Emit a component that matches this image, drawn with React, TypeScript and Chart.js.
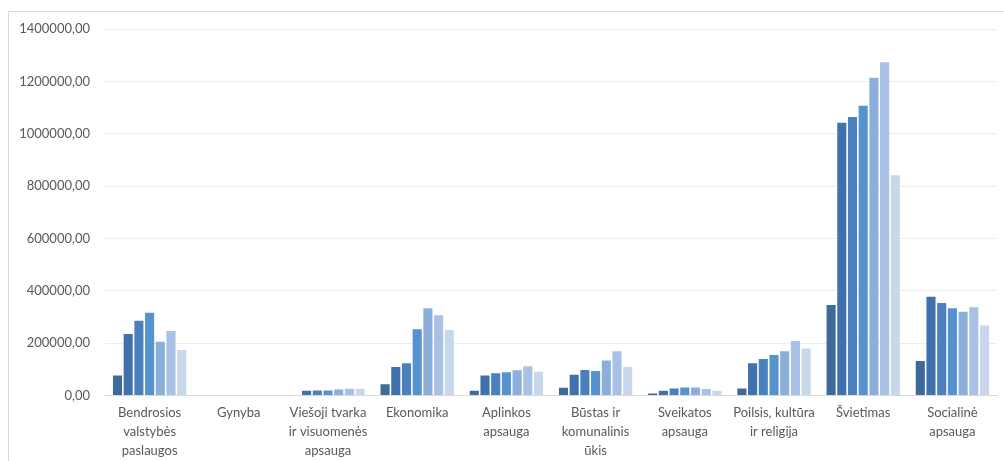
import React, { useEffect, useRef } from "react";
import { Chart, registerables } from "chart.js";

Chart.register(...registerables);

const categories: string[][] = [
  ["Bendrosios", "valstybės", "paslaugos"],
  ["Gynyba"],
  ["Viešoji tvarka", "ir visuomenės", "apsauga"],
  ["Ekonomika"],
  ["Aplinkos", "apsauga"],
  ["Būstas ir", "komunalinis", "ūkis"],
  ["Sveikatos", "apsauga"],
  ["Poilsis, kultūra", "ir religija"],
  ["Švietimas"],
  ["Socialinė", "apsauga"],
];

const series1 = [76000, 0, 0, 43000, 18000, 30000, 8000, 27000, 346000, 132000];
const series2 = [235000, 0, 18000, 109000, 76000, 79000, 18000, 123000, 1042000, 377000];
const series3 = [286000, 0, 19000, 123000, 85000, 97000, 27000, 139000, 1064000, 353000];
const series4 = [316000, 0, 19000, 253000, 89000, 94000, 31000, 155000, 1107000, 333000];
const series5 = [205000, 0, 23000, 333000, 96000, 134000, 31000, 169000, 1214000, 320000];
const series6 = [246000, 0, 26000, 307000, 112000, 169000, 25000, 208000, 1273000, 337000];
const series7 = [174000, 0, 26000, 250000, 91000, 109000, 18000, 180000, 841000, 267000];

const seriesNames = ["1", "2", "3", "4", "5", "6", "7"];
const seriesColors = ["#3E6A9A", "#3F72AC", "#4A80BE", "#5592D0", "#8CAEDA", "#A9C1E4", "#C8D7EC"];

const yMin = 0;
const yMax = 1400000;
const yStep = 200000;

export default function App() {
  const ref = useRef<HTMLCanvasElement | null>(null);

  useEffect(() => {
    if (!ref.current) return;
    const all = [series1, series2, series3, series4, series5, series6, series7];
    const chart = new Chart(ref.current, {
      type: "bar",
      data: {
        labels: categories,
        datasets: all.map((d, i) => ({
          label: seriesNames[i],
          data: d,
          backgroundColor: seriesColors[i],
          borderWidth: 0,
          categoryPercentage: 0.84,
          barPercentage: 0.85,
        })),
      },
      options: {
        responsive: false,
        animation: false,
        devicePixelRatio: 1,
        layout: { padding: { left: 0, right: 7, top: 29, bottom: 0 } },
        plugins: {
          legend: { display: false },
          tooltip: { enabled: false },
        },
        scales: {
          x: {
            grid: { display: false, drawTicks: false },
            border: { display: true, color: "#d9d9d9" },
            ticks: {
              color: "#595959",
              font: { family: "Lato", size: 13, lineHeight: 1.45 },
              padding: 8,
              maxRotation: 0,
              autoSkip: false,
            },
            afterFit: (scale: any) => {
              scale.height = 65.5;
            },
          },
          y: {
            min: yMin,
            max: yMax,
            grid: { color: "#ececec", drawTicks: false },
            border: { display: false },
            ticks: {
              stepSize: yStep,
              color: "#595959",
              font: { family: "Lato", size: 13 },
              padding: 15,
              callback: (v: any) => Number(v).toFixed(2).replace(".", ","),
            },
            afterFit: (scale: any) => {
              scale.width = 105;
            },
          },
        },
      },
    });
    return () => chart.destroy();
  }, []);

  return (
    <div style={{ position: "fixed", left: 0, top: 0, width: 1004, height: 461, background: "#fff", overflow: "hidden" }}>
      <div
        style={{
          position: "absolute",
          left: 8,
          top: 11,
          width: 1004,
          height: 461,
          borderLeft: "1px solid #d9d9d9",
          borderTop: "1px solid #d9d9d9",
        }}
      />
      <canvas ref={ref} width={1004} height={461} style={{ position: "absolute", left: 0, top: 0, width: 1004, height: 461 }} />
    </div>
  );
}
